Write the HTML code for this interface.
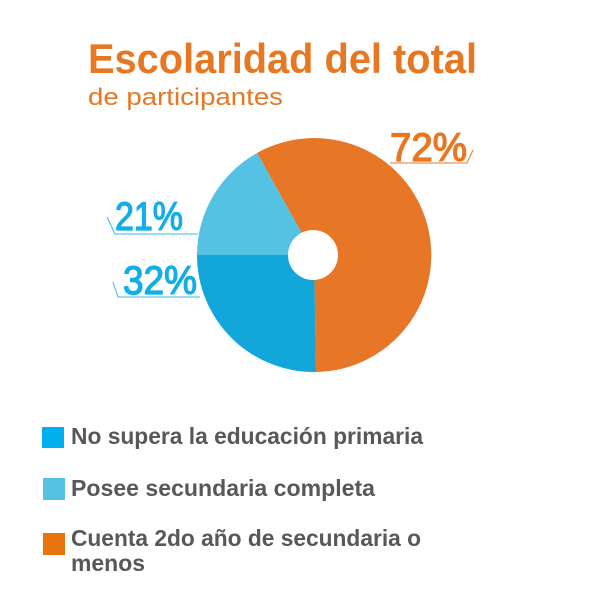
<!DOCTYPE html>
<html><head><meta charset="utf-8"><style>html,body{margin:0;padding:0;background:#fff;width:600px;height:600px;overflow:hidden}</style></head>
<body>
<svg width="600" height="600" viewBox="0 0 600 600" xmlns="http://www.w3.org/2000/svg" font-family="Liberation Sans, sans-serif">
<text x="88" y="73" font-size="42" font-weight="bold" fill="#e87722" textLength="389" lengthAdjust="spacingAndGlyphs">Escolaridad del total</text>
<text x="88" y="105" font-size="24" fill="#e87722" textLength="195" lengthAdjust="spacingAndGlyphs">de participantes</text>
<path d="M314,255 L257,153 A117,117 0 1 1 316,372 Z" fill="#e87627"/>
<path d="M314,255 L316,372 A117,117 0 0 1 197,255 Z" fill="#12a6da"/>
<path d="M314,255 L197,255 A117,117 0 0 1 257,153 Z" fill="#56c2e3"/>
<circle cx="313" cy="255" r="25" fill="#fff"/>
<polyline points="390,163 467,163 473,150" fill="none" stroke="#e87722" stroke-width="1"/>
<polyline points="107,217 115,234 198,234" fill="none" stroke="#3fb6e8" stroke-width="1"/>
<polyline points="113,282 118,297 200,297" fill="none" stroke="#3fb6e8" stroke-width="1"/>
<text x="390" y="161" font-size="40" fill="#e87722" stroke="#e87722" stroke-width="1.3" textLength="77" lengthAdjust="spacingAndGlyphs">72%</text>
<text x="115" y="230" font-size="40" fill="#12aee8" stroke="#12aee8" stroke-width="1.3" textLength="68" lengthAdjust="spacingAndGlyphs">21%</text>
<text x="123" y="294" font-size="40" fill="#12aee8" stroke="#12aee8" stroke-width="1.3" textLength="74" lengthAdjust="spacingAndGlyphs">32%</text>
<rect x="42" y="427" width="22" height="21" fill="#00aeef"/>
<rect x="43" y="478" width="22" height="22" fill="#56c2e3"/>
<rect x="43" y="533" width="22" height="22" fill="#e8740e"/>
<g font-size="23" font-weight="bold" fill="#58585a">
<text x="71" y="444" textLength="352" lengthAdjust="spacingAndGlyphs">No supera la educación primaria</text>
<text x="71" y="496" textLength="304" lengthAdjust="spacingAndGlyphs">Posee secundaria completa</text>
<text x="71" y="546" textLength="350" lengthAdjust="spacingAndGlyphs">Cuenta 2do año de secundaria o</text>
<text x="71" y="571" textLength="74" lengthAdjust="spacingAndGlyphs">menos</text>
</g>
</svg>
</body></html>
